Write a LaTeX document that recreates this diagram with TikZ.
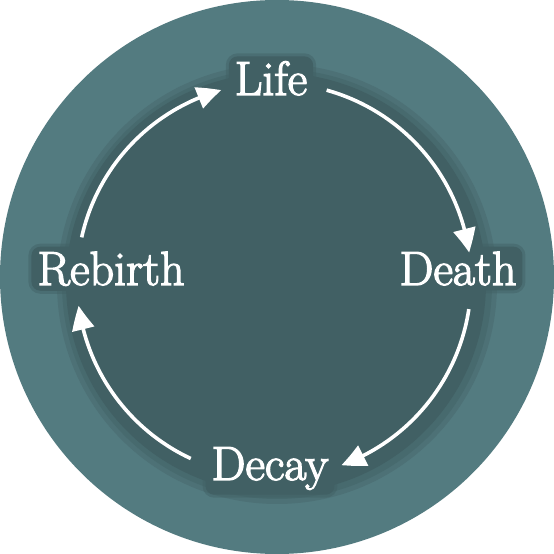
\documentclass[tikz,border=0pt]{standalone}
\usepackage{fontspec}
\newfontfamily\lblfont{Latin Modern Roman}[FakeBold=2.6]
\usetikzlibrary{arrows.meta,bending}
\definecolor{outerc}{HTML}{537B80}
\definecolor{innerc}{HTML}{416064}
\begin{document}
\begin{tikzpicture}[x=1pt,y=1pt,
  lbl/.style={text=white, font=\lblfont\fontsize{48}{48}\selectfont,
    fill=innerc, rounded corners=9pt, inner xsep=6pt, inner ysep=5pt,
    preaction={draw=innerc, line width=6pt, draw opacity=0.45}},
  cyc/.style={white, line width=3.6pt, -{Triangle[length=24pt,width=22pt,bend]}}]
\useasboundingbox (0,0) rectangle (554,554);
\fill[white] (0,0) rectangle (554,554);
\fill[outerc] (277,277) circle (277);
% inner disc with soft shadow
\fill[innerc!35!outerc] (277,270) circle (220);
\fill[innerc!65!outerc] (277,270) circle (215);
\fill[innerc] (276,271) circle (210);
\coordinate (c) at (274,274);
% labels
\node[lbl, anchor=base] (life) at (271,459) {Life};
\node[lbl, anchor=base] (death) at (458,269) {Death};
\node[lbl, anchor=base] (rebirth) at (111,269) {Rebirth};
\node[lbl, anchor=base] (decay) at (270,74) {Decay};
% cycle arrows
\draw[cyc] ([shift={(167.5:197)}]c) arc[start angle=167.5, end angle=105.5, radius=197];
\draw[cyc] ([shift={(74.5:197)}]c) arc[start angle=74.5, end angle=8, radius=197];
\draw[cyc] ([shift={(-8.5:197)}]c) arc[start angle=-8.5, end angle=-70, radius=197];
\draw[cyc] ([shift={(245:197)}]c) arc[start angle=245, end angle=187.5, radius=197];
\end{tikzpicture}
\end{document}
